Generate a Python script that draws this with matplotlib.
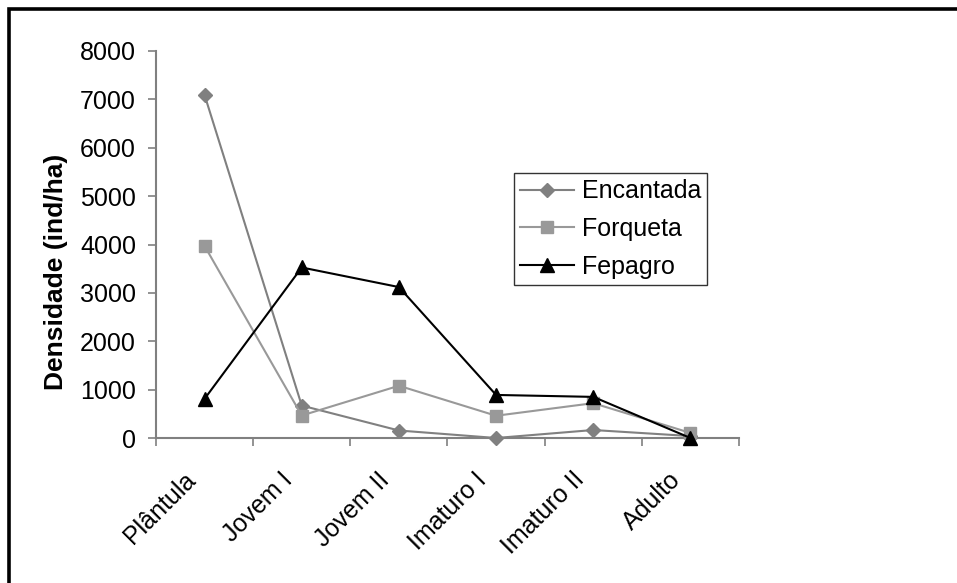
import matplotlib
matplotlib.use("Agg")
import matplotlib.pyplot as plt
from matplotlib.patches import Rectangle

plt.rcParams['font.family'] = ['Liberation Sans', 'DejaVu Sans']

categories = ["Plântula", "Jovem I", "Jovem II", "Imaturo I", "Imaturo II", "Adulto"]
encantada = [7090, 670, 155, 0, 165, 40]
forqueta = [3970, 465, 1080, 460, 720, 105]
fepagro = [810, 3525, 3120, 890, 850, 0]
yticks = [0, 1000, 2000, 3000, 4000, 5000, 6000, 7000, 8000]

W, H = 957, 583
fig = plt.figure(figsize=(W / 100, H / 100), dpi=100)
fig.patch.set_facecolor('white')

# outer chart frame (cropped at right and bottom)
fig.patches.append(Rectangle((8.5 / W, -0.05), 1.1, 1 - 9 / H + 0.05, transform=fig.transFigure,
                             fill=False, edgecolor='black', linewidth=2.6, zorder=0))

ax = fig.add_axes([156 / W, 1 - 438 / H, (739 - 156) / W, (438 - 51) / H])
x = list(range(len(categories)))

ax.plot(x, encantada, color='#808080', lw=1.5, marker='D', ms=7.5, mfc='#808080', mec='#808080',
        label='Encantada', clip_on=False, zorder=3)
ax.plot(x, forqueta, color='#999999', lw=1.5, marker='s', ms=8.5, mfc='#999999', mec='#999999',
        label='Forqueta', clip_on=False, zorder=3)
ax.plot(x, fepagro, color='black', lw=1.5, marker='^', ms=10, mfc='black', mec='black',
        label='Fepagro', clip_on=False, zorder=4)

ax.set_xlim(-0.5, len(categories) - 0.5)
ax.set_ylim(0, 8000)
ax.set_yticks(yticks)
ax.set_yticklabels([str(v) for v in yticks], fontsize=18)

ax.set_xticks([i - 0.5 for i in range(len(categories) + 1)])
ax.set_xticklabels([])
ax.tick_params(axis='x', which='major', length=5.8, color='#808080', width=1.2, direction='out')
ax.tick_params(axis='y', which='major', length=5.8, color='#808080', width=1.2, direction='out', pad=8.6)

for i, c in enumerate(categories):
    ax.annotate(c, xy=(i, 0), xycoords=('data', 'axes fraction'), xytext=(-15.6, -21.2),
                textcoords='offset points', rotation=45, ha='right', va='top',
                rotation_mode='anchor', fontsize=18)

for s in ['top', 'right']:
    ax.spines[s].set_visible(False)
for s in ['left', 'bottom']:
    ax.spines[s].set_color('#808080')
    ax.spines[s].set_linewidth(1.5)

ax.set_ylabel('Densidade (ind/ha)', fontsize=19, fontweight='bold')
ax.yaxis.set_label_coords((68 - 156) / (739 - 156), (438 - 272) / (438 - 51))

leg = ax.legend(loc='upper left', bbox_to_anchor=((514 - 156) / (739 - 156), 1 - (173 - 51) / (438 - 51)),
                fontsize=18, frameon=True, fancybox=False, handlelength=2.16, handletextpad=0.3,
                borderpad=0.25, labelspacing=0.55, borderaxespad=0)
leg.get_frame().set_edgecolor('black')
leg.get_frame().set_linewidth(1.0)

fig.savefig('out.png', dpi=100)
